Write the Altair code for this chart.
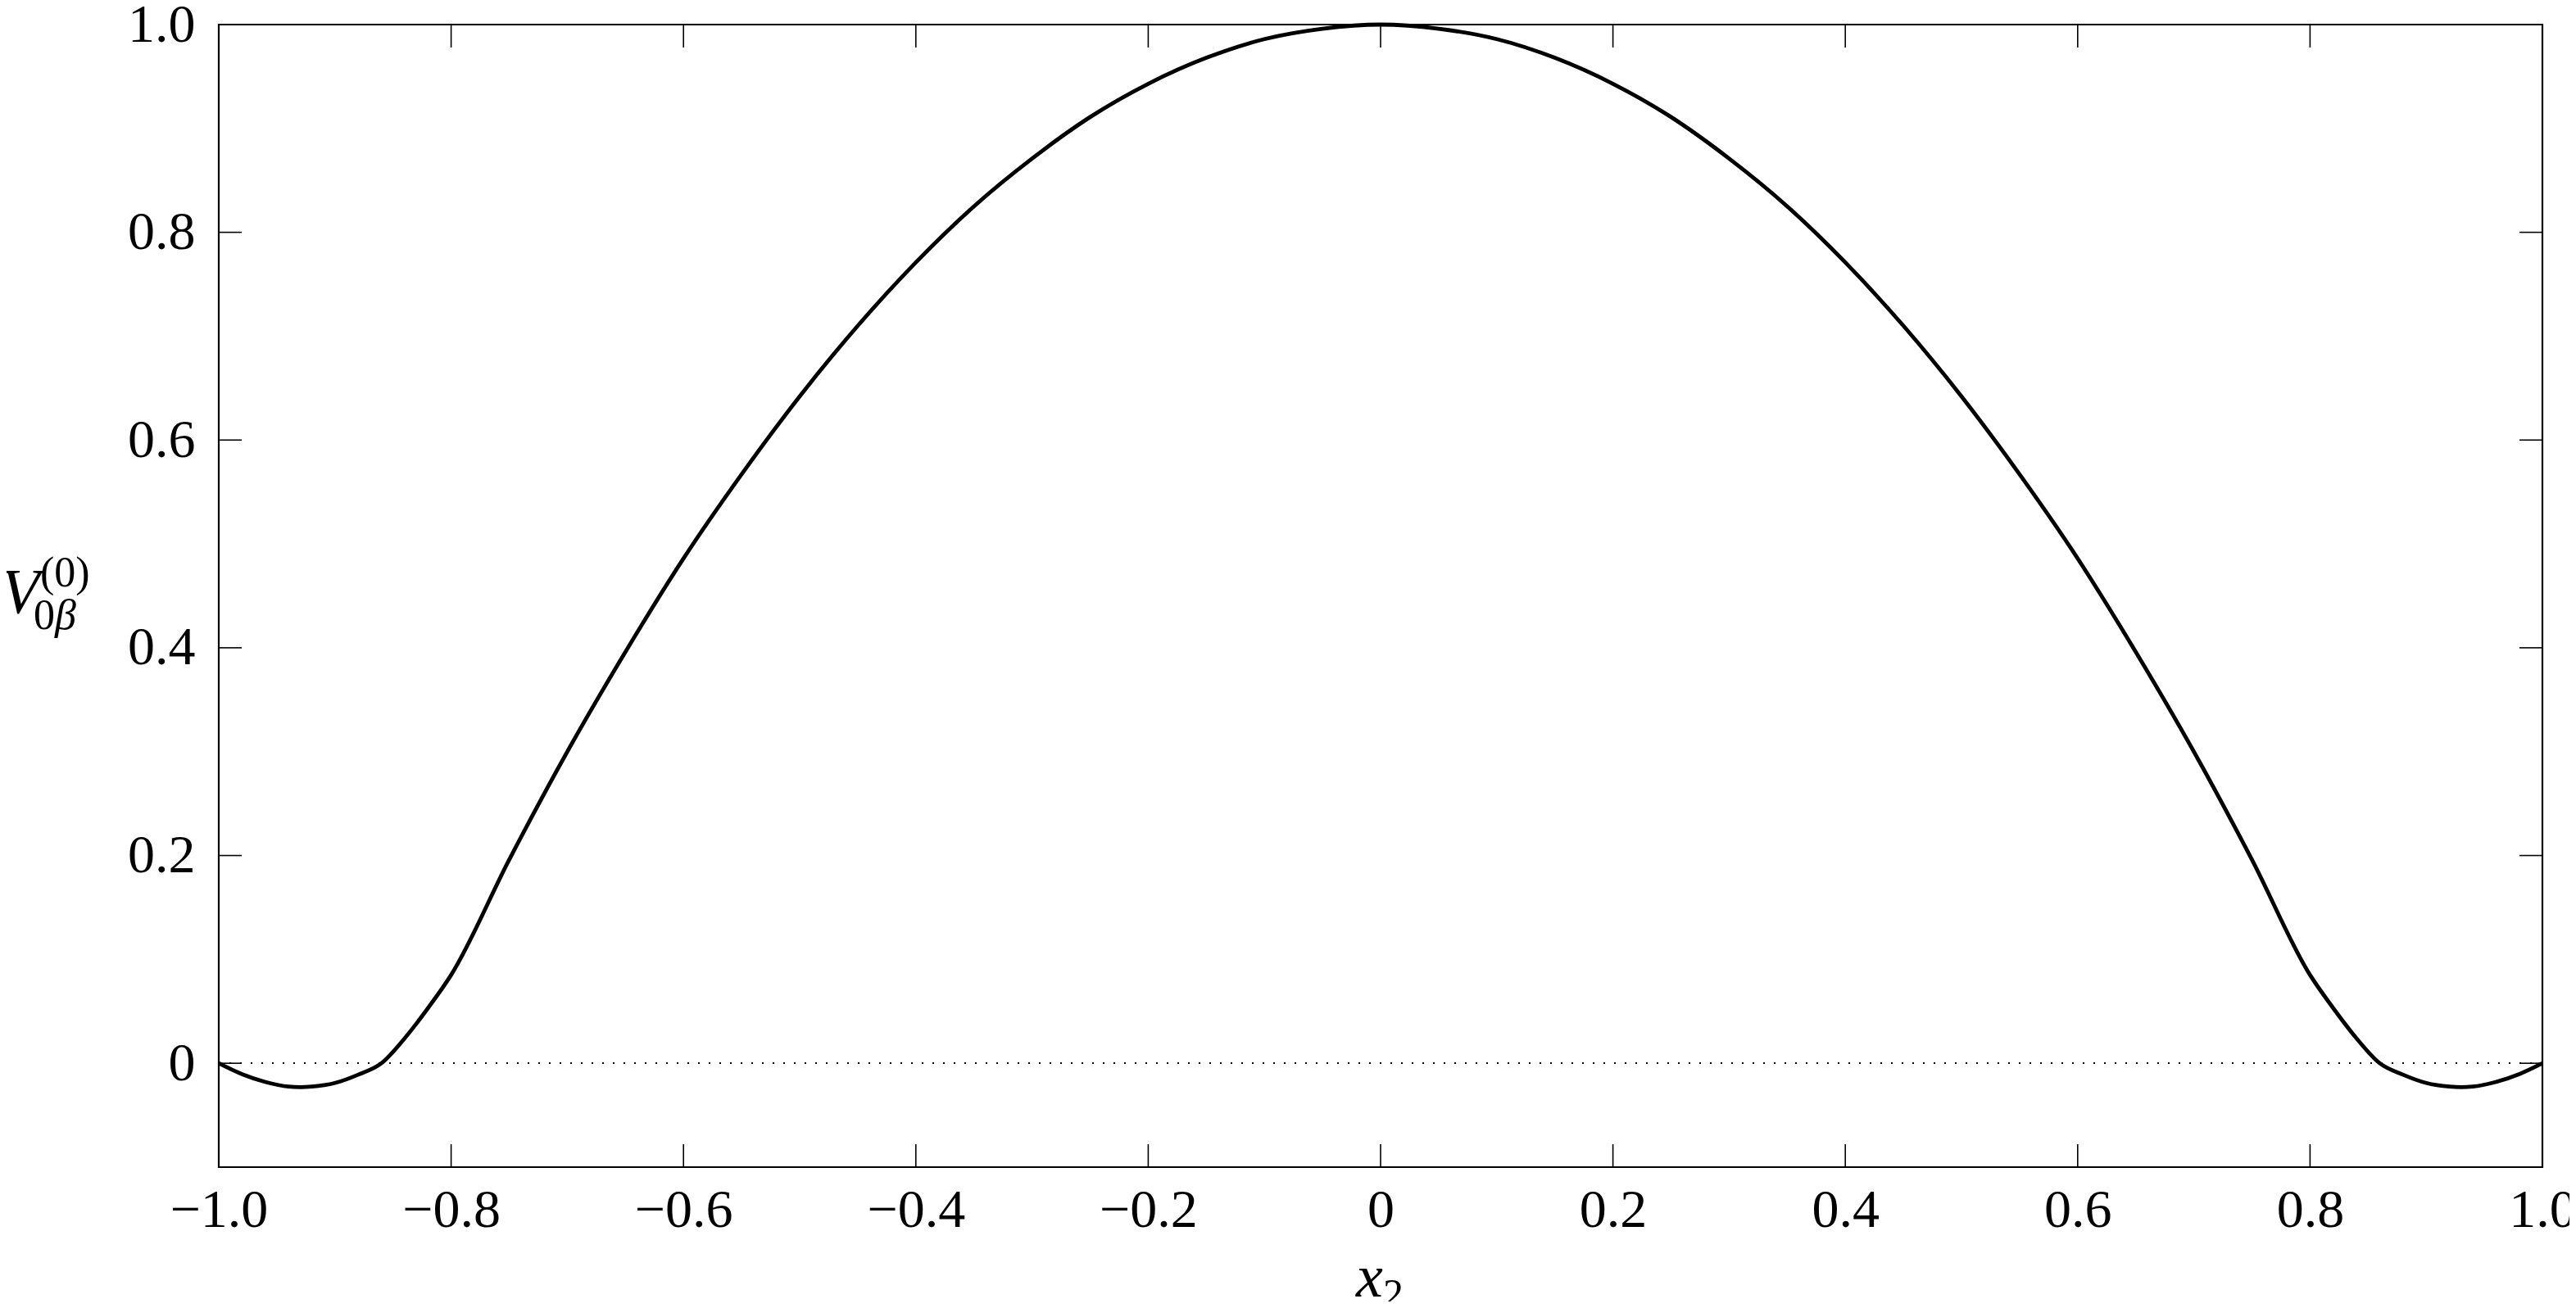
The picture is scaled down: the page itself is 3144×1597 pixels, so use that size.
import altair as alt
import pandas as pd

# Curve (symmetric about x2 = 0)
x_vals = [-1.0, -0.98, -0.96, -0.94, -0.93, -0.92, -0.90, -0.88, -0.86, -0.84, -0.82, -0.80,
          -0.75, -0.70, -0.65, -0.60, -0.55, -0.50, -0.45, -0.40, -0.35,
          -0.30, -0.25, -0.20, -0.15, -0.10, -0.05, 0.0,
          0.05, 0.10, 0.15, 0.20, 0.25, 0.30, 0.35, 0.40, 0.45, 0.50,
          0.55, 0.60, 0.65, 0.70, 0.75, 0.80, 0.82, 0.84, 0.86,
          0.88, 0.90, 0.92, 0.93, 0.94, 0.96, 0.98, 1.0]
v_vals = [0.0, -0.0105, -0.018, -0.0225, -0.023, -0.0225, -0.019, -0.011, 0.000, 0.024, 0.053, 0.085,
          0.196, 0.300, 0.396, 0.486, 0.567, 0.642, 0.710, 0.771, 0.825,
          0.871, 0.911, 0.943, 0.968, 0.986, 0.996, 1.0,
          0.996, 0.986, 0.968, 0.943, 0.911, 0.871, 0.825, 0.771, 0.710, 0.642,
          0.567, 0.486, 0.396, 0.300, 0.196, 0.085, 0.053, 0.024, 0.000,
          -0.011, -0.019, -0.0225, -0.023, -0.0225, -0.018, -0.0105, 0.0]

x_ticks = [-1.0, -0.8, -0.6, -0.4, -0.2, 0.0, 0.2, 0.4, 0.6, 0.8, 1.0]
y_ticks = [0.0, 0.2, 0.4, 0.6, 0.8, 1.0]

x_title = ["x", "2"]
y_title = ["V", "(0)", "0", "β"]

W, H = 2836, 1395
TICK = 28
FONT = "Liberation Serif"

curve_df = pd.DataFrame({"x": x_vals, "v": v_vals})
xt_df = pd.DataFrame({"x": x_ticks})
yt_df = pd.DataFrame({"v": y_ticks})

lab = "datum.value == 0 ? '0' : replace(format(datum.value, '.1f'), '-', '\u2212')"

xscale = alt.Scale(domain=[-1.0, 1.0], nice=False, zero=False)
yscale = alt.Scale(domain=[-0.1, 1.0], nice=False, zero=False)

xaxis = alt.Axis(values=x_ticks, labelExpr=lab, title=None, domain=False, ticks=False,
                 tickSize=0, grid=False, labelFont=FONT, labelFontSize=66,
                 labelColor="black", labelPadding=20, labelFlush=False)
yaxis = alt.Axis(values=y_ticks, labelExpr=lab, title=None, domain=False, ticks=False,
                 tickSize=0, grid=False, labelFont=FONT, labelFontSize=66,
                 labelColor="black", labelPadding=29, labelFlush=False)

curve = alt.Chart(curve_df).mark_line(color="black", strokeWidth=4.8,
                                      interpolate="monotone").encode(
    x=alt.X("x:Q", scale=xscale, axis=xaxis),
    y=alt.Y("v:Q", scale=yscale, axis=yaxis),
)

zero_line = alt.Chart(curve_df).mark_rule(color="black", strokeWidth=1.5,
                                          strokeDash=[2, 11]).encode(y=alt.datum(0.0))

yt_left = alt.Chart(yt_df).mark_rule(color="black", strokeWidth=1.6).encode(
    y="v:Q", x=alt.value(0), x2=alt.value(TICK))
yt_right = alt.Chart(yt_df).mark_rule(color="black", strokeWidth=1.6).encode(
    y="v:Q", x=alt.value(W - TICK), x2=alt.value(W))
xt_bottom = alt.Chart(xt_df).mark_rule(color="black", strokeWidth=1.6).encode(
    x="x:Q", y=alt.value(H - TICK), y2=alt.value(H))
xt_top = alt.Chart(xt_df).mark_rule(color="black", strokeWidth=1.6).encode(
    x="x:Q", y=alt.value(0), y2=alt.value(TICK))

one = pd.DataFrame({"a": [0]})


def txt(t, x, y, size, style="normal"):
    return alt.Chart(one).mark_text(text=t, font=FONT, fontSize=size, fontStyle=style,
                                    align="left", baseline="alphabetic",
                                    color="black").encode(x=alt.value(x), y=alt.value(y))


titles = [
    txt(x_title[0], 1388, 1553, 74, "italic"),
    txt(x_title[1], 1421, 1566, 50),
    txt(y_title[0], -266, 718, 78, "italic"),
    txt(y_title[1], -218, 686, 52),
    txt(y_title[2], -226, 738, 52),
    txt(y_title[3], -200, 738, 52, "italic"),
]

chart = alt.layer(zero_line, curve, yt_left, yt_right, xt_bottom, xt_top, *titles).properties(
    width=W, height=H,
    background="white",
    autosize=alt.AutoSizeParams(type="none"),
    padding={"left": 259, "top": 22, "right": 33, "bottom": 164},
).configure_view(stroke="black", strokeWidth=2.2)

chart.save("out.html", embed_options={"renderer": "svg", "actions": False})
